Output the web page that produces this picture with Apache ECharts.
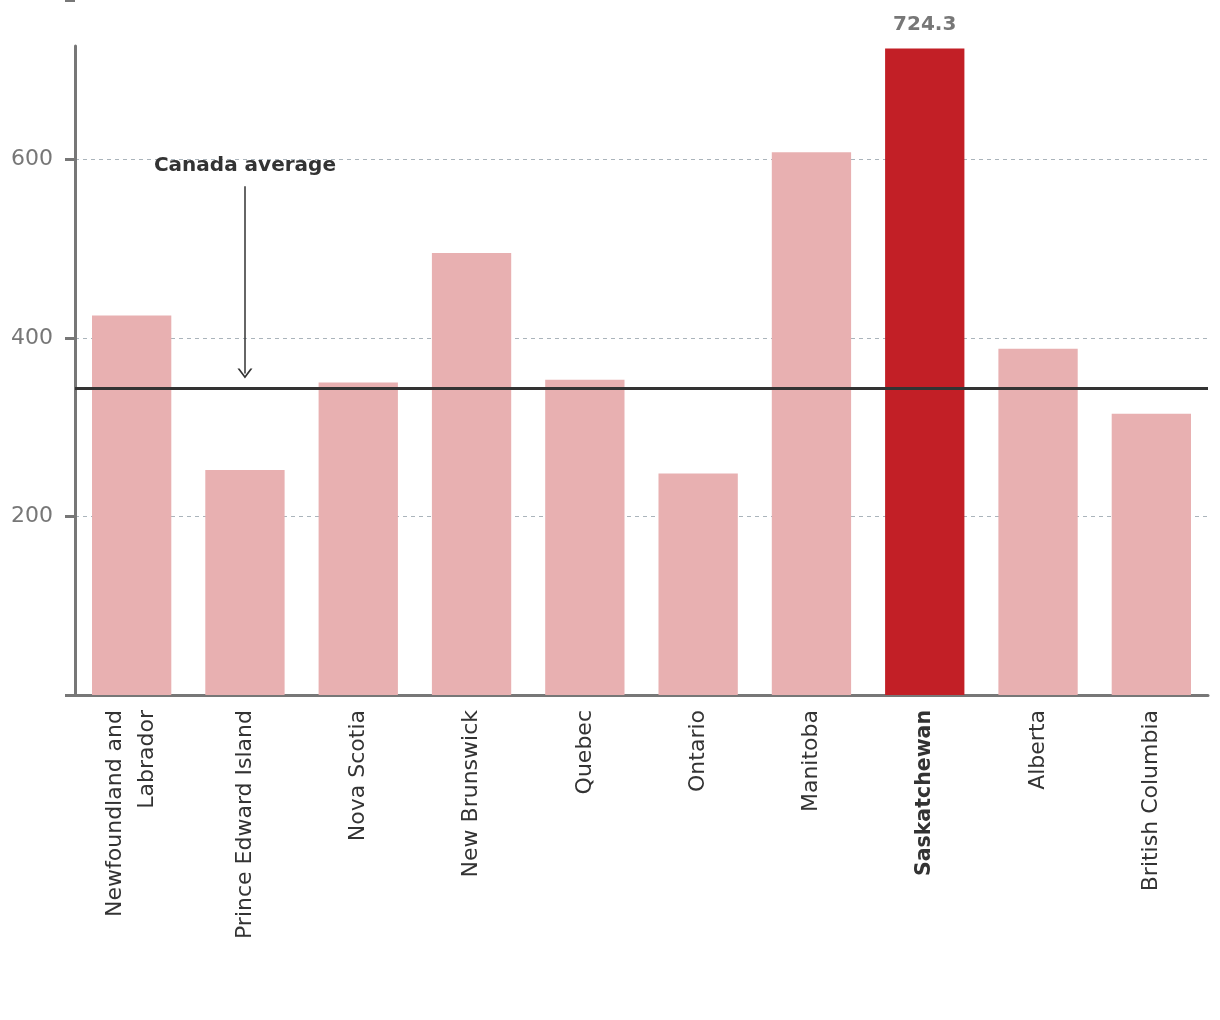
<!DOCTYPE html>
<html><head><meta charset="utf-8">
<style>html,body{margin:0;padding:0;background:#fff}#c{width:1220px;height:1020px}</style>
<script src="https://cdn.jsdelivr.net/npm/echarts@6/dist/echarts.min.js"></script>
</head><body><div id="c"></div>
<script>
var categories = ["Newfoundland and\nLabrador","Prince Edward Island","Nova Scotia","New Brunswick","Quebec","Ontario","Manitoba","Saskatchewan","Alberta","British Columbia"];
var values = [425, 252, 350, 495, 353, 248, 608, 724.3, 388, 315];
var highlight = "Saskatchewan";
var canadaAverage = 344;
var arrowFrom = 570, arrowTo = 360;
var gridValues = [0, 200, 400, 600];
var labelValues = [200, 400, 600];
var yMax = 727, tickStep = 200;

var FONT = '"DejaVu Sans", sans-serif';
var GRID_TOP = 46, GRID_BOTTOM = 325, H = 1020;
var plotH = H - GRID_TOP - GRID_BOTTOM;
// second (tick-only) grid spans from the page top down to the same baseline, same scale
var tickMax = yMax * (H - GRID_BOTTOM) / plotH;

var chart = echarts.init(document.getElementById('c'));
var data = values.map(function(v, i){
  var hi = categories[i] === highlight;
  return {
    value: v,
    itemStyle: {color: hi ? '#c21f26' : '#e8b0b1'},
    label: hi ? {show: true, position: 'top', distance: 14, formatter: function(p){return p.value.toFixed(1);},
      color: '#777', fontWeight: 'bold', fontSize: 20, fontFamily: FONT} : {show:false}
  };
});
chart.setOption({
  animation: false,
  grid: [
    {left: 75, right: 12, top: GRID_TOP, bottom: GRID_BOTTOM, containLabel: false},
    {left: 75, right: 12, top: 0, bottom: GRID_BOTTOM, containLabel: false}
  ],
  xAxis: [{
    type: 'category', data: categories, gridIndex: 0,
    axisLine: {lineStyle: {color: '#777', width: 3}},
    axisTick: {show: false},
    axisLabel: {rotate: 90, interval: 0, margin: 15, fontSize: 22, color: '#333', fontFamily: FONT, align: 'right', lineHeight: 32,
      formatter: function(v){ return v === highlight ? '{b|' + v + '}' : v; },
      rich: {b: {fontWeight: 'bold', fontSize: 20.5, color: '#333', fontFamily: FONT}}}
  }, {
    type: 'category', data: categories, gridIndex: 1, show: false
  }],
  yAxis: [{
    type: 'value', min: 0, max: yMax, gridIndex: 0,
    axisLine: {show: true, lineStyle: {color: '#777', width: 3}},
    axisTick: {show: true, length: 10, lineStyle: {color: '#777', width: 3}, customValues: gridValues},
    axisLabel: {show: true, fontSize: 22, color: '#777', fontFamily: FONT, margin: 22, customValues: labelValues},
    splitLine: {show: true, showMinLine: false, showMaxLine: true, lineStyle: {color: '#aab4bb', type: [4, 4], width: 1}}
  }, {
    type: 'value', min: 0, max: tickMax, interval: tickStep, gridIndex: 1,
    axisLine: {show: false},
    axisTick: {show: true, length: 10, lineStyle: {color: '#777', width: 3}},
    axisLabel: {show: false},
    splitLine: {show: false}
  }],
  series: [{
    type: 'bar', data: data, barCategoryGap: '30%', xAxisIndex: 0, yAxisIndex: 0,
    markLine: {
      silent: true,
      symbol: ['none', 'none'],
      data: [
        {yAxis: canadaAverage, lineStyle: {color: '#333', width: 3, type: 'solid'}, label: {show: false}},
        [
          {coord: [categories[1], arrowFrom], symbol: 'none',
           label: {show: true, position: 'start', formatter: 'Canada average', distance: 10, color: '#333', fontWeight: 'bold', fontSize: 20, fontFamily: FONT}},
          {coord: [categories[1], arrowTo], symbol: 'path://M0,10L5,0L10,10L8.6,10L5,2.8L1.4,10Z', symbolSize: [15, 10]}
        ]
      ],
      lineStyle: {color: '#333', width: 1.5, type: 'solid'}
    }
  }]
});
</script></body></html>
